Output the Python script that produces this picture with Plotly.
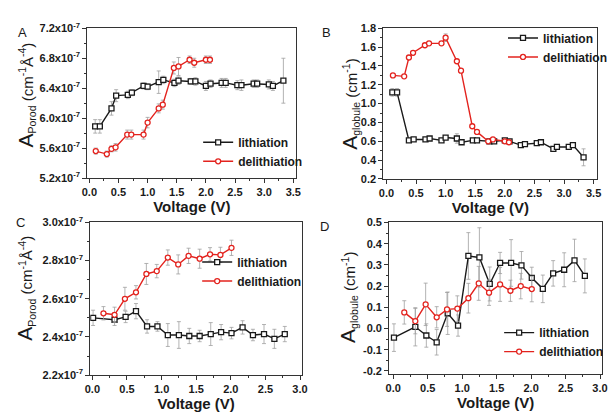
import plotly.graph_objects as go
import numpy as np

# ---------------- data ----------------
# Panel A: A_Porod (units of 1e-7 cm^-1 Å^-4) vs voltage
a_lith_x = [0.10, 0.18, 0.38, 0.46, 0.66, 0.73, 0.93, 1.00, 1.19, 1.27, 1.46, 1.53, 1.74,
            1.82, 2.00, 2.08, 2.27, 2.34, 2.54, 2.61, 2.82, 2.88, 3.08, 3.15, 3.33]
a_lith_y = [5.89, 5.89, 6.13, 6.30, 6.31, 6.34, 6.43, 6.42, 6.48, 6.51, 6.47, 6.50, 6.49,
            6.49, 6.43, 6.46, 6.47, 6.47, 6.44, 6.44, 6.46, 6.46, 6.45, 6.43, 6.50]
a_lith_e = [0.09, 0.09, 0.09, 0.08, 0.05, 0.04, 0.04, 0.04, 0.15, 0.05, 0.05, 0.05, 0.04,
            0.05, 0.06, 0.05, 0.06, 0.06, 0.06, 0.07, 0.05, 0.05, 0.06, 0.06, 0.30]
a_deli_x = [0.11, 0.30, 0.38, 0.45, 0.65, 0.72, 0.93, 1.00, 1.19, 1.26, 1.45, 1.53, 1.72,
            1.80, 2.00, 2.07]
a_deli_y = [5.56, 5.52, 5.59, 5.61, 5.78, 5.78, 5.78, 5.94, 6.13, 6.18, 6.67, 6.69, 6.78,
            6.74, 6.78, 6.78]
a_deli_e = [0.04, 0.04, 0.04, 0.05, 0.06, 0.06, 0.06, 0.07, 0.06, 0.06, 0.08, 0.12, 0.05,
            0.06, 0.05, 0.05]

# Panel B: A_globule (cm^-1)
b_lith_y = [1.12, 1.12, 0.61, 0.62, 0.62, 0.63, 0.61, 0.64, 0.63, 0.59, 0.61, 0.61, 0.60,
            0.60, 0.61, 0.60, 0.56, 0.57, 0.58, 0.59, 0.52, 0.54, 0.54, 0.56, 0.43]
b_lith_e = [0.04, 0.04, 0.01, 0.01, 0.01, 0.01, 0.01, 0.01, 0.05, 0.01, 0.01, 0.01, 0.01,
            0.01, 0.01, 0.02, 0.01, 0.01, 0.01, 0.02, 0.01, 0.01, 0.01, 0.01, 0.09]
b_deli_y = [1.30, 1.29, 1.49, 1.54, 1.62, 1.64, 1.64, 1.70, 1.45, 1.35, 0.76, 0.70, 0.60,
            0.62, 0.60, 0.59]
b_deli_e = [0.01, 0.01, 0.01, 0.01, 0.01, 0.01, 0.01, 0.04, 0.01, 0.01, 0.01, 0.01, 0.01,
            0.01, 0.01, 0.01]

# Panels C/D
c_lith_x = [0.01, 0.32, 0.48, 0.63, 0.79, 0.94, 1.09, 1.25, 1.40, 1.55, 1.71, 1.86, 2.01,
            2.17, 2.32, 2.48, 2.63, 2.78]
c_lith_y = [2.50, 2.49, 2.505, 2.535, 2.455, 2.455, 2.41, 2.41, 2.405, 2.405, 2.415, 2.425,
            2.42, 2.45, 2.41, 2.415, 2.39, 2.415]
c_lith_e = [0.04, 0.03, 0.03, 0.04, 0.035, 0.025, 0.06, 0.07, 0.04, 0.03, 0.06, 0.04, 0.03,
            0.035, 0.03, 0.05, 0.05, 0.04]
c_deli_x = [0.16, 0.32, 0.47, 0.63, 0.78, 0.93, 1.09, 1.24, 1.39, 1.55, 1.70, 1.85, 2.01]
c_deli_y = [2.524, 2.516, 2.60, 2.634, 2.73, 2.745, 2.816, 2.78, 2.825, 2.81, 2.833, 2.83,
            2.867]
c_deli_e = [0.035, 0.04, 0.06, 0.035, 0.055, 0.035, 0.04, 0.05, 0.04, 0.05, 0.035, 0.04,
            0.04]

d_lith_y = [-0.043, 0.008, -0.033, -0.065, 0.072, 0.014, 0.342, 0.335, 0.21, 0.309, 0.309,
            0.298, 0.239, 0.187, 0.26, 0.277, 0.321, 0.248]
d_lith_e = [0.065, 0.09, 0.055, 0.06, 0.10, 0.05, 0.11, 0.14, 0.08, 0.05, 0.11, 0.065, 0.05,
            0.065, 0.06, 0.08, 0.10, 0.08]
d_deli_y = [0.076, 0.035, 0.114, 0.053, 0.09, 0.094, 0.143, 0.213, 0.169, 0.208, 0.178,
            0.20, 0.186]
d_deli_e = [0.055, 0.06, 0.10, 0.05, 0.08, 0.06, 0.07, 0.08, 0.06, 0.08, 0.05, 0.06, 0.06]

a_ticks = [5.2, 5.6, 6.0, 6.4, 6.8, 7.2]
c_ticks = [2.2, 2.4, 2.6, 2.8, 3.0]
b_ticks = [0.2, 0.4, 0.6, 0.8, 1.0, 1.2, 1.4, 1.6, 1.8]
d_ticks = [-0.2, -0.1, 0.0, 0.1, 0.2, 0.3, 0.4, 0.5]

# ---------------- figure ----------------
W, H = 612, 412
BLACK = "#1a1a1a"
RED = "#e3231e"
ERR = "#a0a0a0"
FONT = "Liberation Sans"

fig = go.Figure()


def add_series(x, y, e, name, color, symbol, xa, ya, legend):
    fig.add_trace(go.Scatter(
        x=x, y=y, name=name, mode="lines+markers",
        xaxis=xa, yaxis=ya, legend=legend,
        line=dict(color=color, width=1.4),
        marker=dict(symbol=symbol, size=5, color="white",
                    line=dict(color=color, width=1.3)),
        error_y=dict(type="data", array=e, visible=True, color=ERR,
                     thickness=0.8, width=2),
    ))


add_series(a_lith_x, a_lith_y, a_lith_e, "lithiation", BLACK, "square", "x", "y", "legend")
add_series(a_deli_x, a_deli_y, a_deli_e, "delithiation", RED, "circle", "x", "y", "legend")
add_series(a_lith_x, b_lith_y, b_lith_e, "lithiation", BLACK, "square", "x2", "y2", "legend2")
add_series(a_deli_x, b_deli_y, b_deli_e, "delithiation", RED, "circle", "x2", "y2", "legend2")
add_series(c_lith_x, c_lith_y, c_lith_e, "lithiation", BLACK, "square", "x3", "y3", "legend3")
add_series(c_deli_x, c_deli_y, c_deli_e, "delithiation", RED, "circle", "x3", "y3", "legend3")
add_series(c_lith_x, d_lith_y, d_lith_e, "lithiation", BLACK, "square", "x4", "y4", "legend4")
add_series(c_deli_x, d_deli_y, d_deli_e, "delithiation", RED, "circle", "x4", "y4", "legend4")


def px_dom_x(a, b):
    return [a / W, b / W]


def px_dom_y(top, bottom):
    return [1 - bottom / H, 1 - top / H]


tickfont = dict(family=FONT, size=11, color=BLACK, weight="bold")
axis_common = dict(showline=True, linecolor="#333", linewidth=1.3, mirror=True,
                   ticks="outside", ticklen=4, tickcolor="#333", tickwidth=1,
                   showgrid=False, zeroline=False, tickfont=tickfont)


def xaxis(dom, rng, dtick, anchor):
    return dict(domain=dom, range=rng, anchor=anchor, dtick=dtick, tick0=0,
                tickformat=".1f",
                minor=dict(ticks="outside", ticklen=2, dtick=dtick / 2, tick0=0, tickcolor="#333"),
                title=dict(text="Voltage (V)", standoff=4,
                           font=dict(family=FONT, size=15, color=BLACK, weight="bold")),
                **axis_common)


def yaxis(dom, rng, tickvals, ticktext, anchor):
    step = tickvals[1] - tickvals[0]
    return dict(domain=dom, range=rng, anchor=anchor, tickmode="array",
                tickvals=tickvals, ticktext=ticktext,
                minor=dict(ticks="outside", ticklen=2, tickmode="array",
                           tickvals=[v + step / 2 for v in tickvals[:-1]], tickcolor="#333"),
                **axis_common)


sci = lambda vals: ["%.1fx10<sup>-7</sup>" % v for v in vals]
fmt1 = lambda vals: ["%.1f" % v for v in vals]

fig.update_layout(
    width=W, height=H, margin=dict(l=0, r=0, t=0, b=0),
    paper_bgcolor="white", plot_bgcolor="white",
    font=dict(family=FONT, color=BLACK),
    xaxis=xaxis(px_dom_x(83, 296), [-0.034, 3.55], 0.5, "y"),
    yaxis=yaxis(px_dom_y(21, 176), [5.2, 7.2], a_ticks, sci(a_ticks), "x"),
    xaxis2=xaxis(px_dom_x(385, 603), [-0.05, 3.56], 0.5, "y2"),
    yaxis2=yaxis(px_dom_y(21, 177), [0.2, 1.8], b_ticks, fmt1(b_ticks), "x2"),
    xaxis3=xaxis(px_dom_x(86, 302), [-0.03, 3.03], 0.5, "y3"),
    yaxis3=yaxis(px_dom_y(222, 380), [2.2, 3.0], c_ticks, sci(c_ticks), "x3"),
    xaxis4=xaxis(px_dom_x(391, 608), [-0.057, 3.03], 0.5, "y4"),
    yaxis4=yaxis(px_dom_y(222, 379), [-0.215, 0.5], d_ticks, fmt1(d_ticks), "x4"),
)

leg_common = dict(bgcolor="rgba(0,0,0,0)", borderwidth=0, xanchor="left", yanchor="top",
                  font=dict(family=FONT, size=12, color=BLACK, weight="bold"),
                  itemwidth=30, tracegroupgap=0)
fig.update_layout(
    legend=dict(x=196 / W, y=1 - 124 / H, **leg_common),
    legend2=dict(x=507 / W, y=1 - 16 / H, **leg_common),
    legend3=dict(x=195 / W, y=1 - 248 / H, **leg_common),
    legend4=dict(x=503 / W, y=1 - 321 / H, **leg_common),
)

# y-axis titles (rotated text placed as in the reference)
porod_title = "<span style='font-size:21px'>A</span><sub>Porod</sub> (cm<sup>-1</sup>Å<sup>-4</sup>)"
glob_title = "<span style='font-size:21px'>A</span><sub>globule</sub> (cm<sup>-1</sup>)"
ytitles = [(porod_title, 20, 90), (glob_title, 350, 100), (porod_title, 20, 290), (glob_title, 349, 300)]
for txt, x, y in ytitles:
    fig.add_annotation(text=txt, x=x / W, y=1 - y / H, xref="paper", yref="paper",
                       showarrow=False, xanchor="center", yanchor="middle", textangle=-90,
                       font=dict(family=FONT, size=15, color=BLACK))

labels = [("A", 17, 25), ("B", 327, 25), ("C", 15, 222), ("D", 325, 226)]
for txt, x, y in labels:
    fig.add_annotation(text=txt, x=x / W, y=1 - y / H, xref="paper", yref="paper",
                       showarrow=False, xanchor="center", yanchor="middle",
                       font=dict(family=FONT, size=13, color=BLACK))

fig.write_html("out.html")
